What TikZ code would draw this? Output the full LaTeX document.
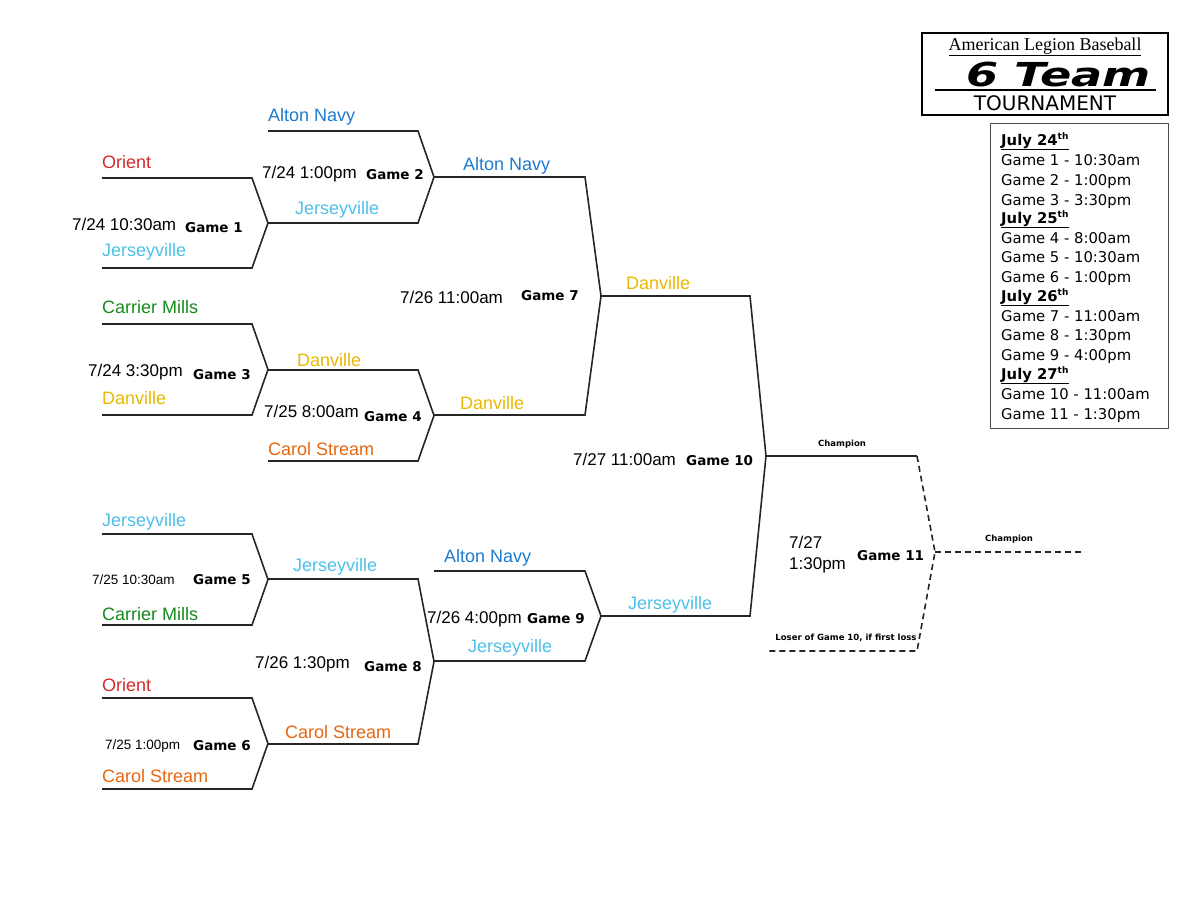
\documentclass[tikz,border=0pt]{standalone}
\usepackage{fontspec}
\setmainfont{Liberation Sans}
\newfontfamily\gfont{DejaVu Sans}
\newfontfamily\tfont{Liberation Serif}
\usetikzlibrary{calc}
\definecolor{cRed}{HTML}{D42A2A}
\definecolor{cNavy}{HTML}{1C7BD0}
\definecolor{cJer}{HTML}{4DC0E8}
\definecolor{cGreen}{HTML}{168A1C}
\definecolor{cGold}{HTML}{E8B800}
\definecolor{cOrange}{HTML}{E8660E}
\tikzset{
  br/.style={line width=1.6pt,black!85},
  team/.style={anchor=base west,inner sep=0pt,font=\fontsize{18}{20}\selectfont},
  time/.style={anchor=base west,inner sep=0pt,font=\fontsize{17}{20}\selectfont},
  game/.style={anchor=base west,inner sep=0pt,font=\gfont\bfseries\fontsize{13.5}{16}\selectfont},
  small/.style={anchor=base,inner sep=0pt,font=\gfont\bfseries\fontsize{8.5}{10}\selectfont},
  sched/.style={anchor=base west,inner sep=0pt,font=\gfont\fontsize{14.8}{16}\selectfont},
  day/.style={sched,font=\gfont\bfseries\fontsize{14.8}{16}\selectfont},
}
\newcommand{\mybr}[5]{% x1 x2 ytop ybot name
  \coordinate (#5) at (#2+16,{(#3+#4)/2});
  \draw[br] (#1,#3) -- (#2,#3) -- (#5) -- (#2,#4) -- (#1,#4);}
\newcommand{\dayline}[3]{\node[day] (#3) at (#1,#2) {\underline{#3\textsuperscript{\fontsize{9}{10}\selectfont th}}};}
\begin{document}
\begin{tikzpicture}[x=1pt,y=-1pt]
\useasboundingbox (0,0) rectangle (1200,921);
% brackets
\mybr{102}{252}{178}{268}{g1}
\mybr{268}{418}{131}{223}{g2}
\mybr{102}{252}{324}{415}{g3}
\mybr{268}{418}{370}{461}{g4}
\mybr{434}{585}{177}{415}{g7}
\mybr{102}{252}{534}{625}{g5}
\mybr{102}{252}{698}{789}{g6}
\mybr{268}{418}{579}{744}{g8}
\mybr{434}{585}{571}{661}{g9}
\mybr{601}{750}{296}{616}{g10}
\coordinate (w10) at (917,456);
\coordinate (l10) at (767,651);
\coordinate (l10e) at (917,651);
\coordinate (g11) at (935,552);
\coordinate (champ) at (1085,552);
\draw[br] (g10) -- (w10);
\draw[br,dash pattern=on 6pt off 4pt] (w10) -- (g11) -- (l10e) -- (l10);
\draw[br,dash pattern=on 6pt off 4pt] (g11) -- (champ);
% teams
\node[team,text=cRed] (t1) at (102,168) {Orient};
\node[team,text=cJer] (t2) at (102,256) {Jerseyville};
\node[team,text=cNavy] (t3) at (268,121) {Alton Navy};
\node[team,text=cJer] (t4) at (295,214) {Jerseyville};
\node[team,text=cNavy] (t5) at (463,170) {Alton Navy};
\node[team,text=cGreen] (t6) at (102,313) {Carrier Mills};
\node[team,text=cGold] (t7) at (102,404) {Danville};
\node[team,text=cGold] (t8) at (297,366) {Danville};
\node[team,text=cOrange] (t9) at (268,455) {Carol Stream};
\node[team,text=cGold] (t10) at (460,409) {Danville};
\node[team,text=cGold] (t11) at (626,289) {Danville};
\node[team,text=cJer] (t12) at (102,526) {Jerseyville};
\node[team,text=cGreen] (t13) at (102,620) {Carrier Mills};
\node[team,text=cJer] (t14) at (293,571) {Jerseyville};
\node[team,text=cRed] (t15) at (102,691) {Orient};
\node[team,text=cOrange] (t16) at (102,782) {Carol Stream};
\node[team,text=cOrange] (t17) at (285,738) {Carol Stream};
\node[team,text=cNavy] (t18) at (444,562) {Alton Navy};
\node[team,text=cJer] (t19) at (468,652) {Jerseyville};
\node[team,text=cJer] (t20) at (628,609) {Jerseyville};
% times and games
\node[time] (d1) at (72,230) {7/24 10:30am};
\node[game] (n1) at (185,232) {Game 1};
\node[time] (d2) at (262,178) {7/24 1:00pm};
\node[game] (n2) at (366,179) {Game 2};
\node[time] (d3) at (88,376) {7/24 3:30pm};
\node[game] (n3) at (193,379) {Game 3};
\node[time] (d4) at (264,417) {7/25 8:00am};
\node[game] (n4) at (364,421) {Game 4};
\node[time] (d7) at (400,303) {7/26 11:00am};
\node[game] (n7) at (521,300) {Game 7};
\node[time,font=\fontsize{13.5}{15}\selectfont] (d5) at (92,584) {7/25 10:30am};
\node[game] (n5) at (193,584) {Game 5};
\node[time,font=\fontsize{13.5}{15}\selectfont] (d6) at (105,749) {7/25 1:00pm};
\node[game] (n6) at (193,750) {Game 6};
\node[time] (d8) at (255,668) {7/26 1:30pm};
\node[game] (n8) at (364,671) {Game 8};
\node[time] (d9) at (427,623) {7/26 4:00pm};
\node[game] (n9) at (527,623) {Game 9};
\node[time] (d10) at (573,465) {7/27 11:00am};
\node[game] (n10) at (686,465) {Game 10};
\node[time,align=left,anchor=north west,font=\fontsize{17}{21}\selectfont] (d11) at (789,536) {7/27\\1:30pm};
\node[game] (n11) at (857,560) {Game 11};
\node[small] (c1) at (842,446) {Champion};
\node[small] (c2) at (1009,541) {Champion};
\node[small] (c3) at (846,640) {Loser of Game 10, if first loss};
% title box
\draw[line width=2.5pt] (922,33) rectangle (1168,115);
\node[anchor=base,inner sep=0pt,font=\tfont\fontsize{18}{19}\selectfont] (tt1) at (1045,50) {\underline{American Legion Baseball}};
\node[anchor=base west,inner sep=0pt,font=\gfont\bfseries\itshape\fontsize{33}{36}\selectfont,xscale=1.4,transform shape] (tt2) at (966,86) {6 Team};
\draw[line width=2.5pt] (935,90) -- (1156,90);
\node[anchor=base,inner sep=0pt,font=\gfont\fontsize{20}{21}\selectfont] (tt3) at (1045,110) {TOURNAMENT};
% schedule
\draw[line width=0.8pt,black!70] (990,123) rectangle (1168,428);
\dayline{1001}{145}{July 24}
\node[sched] (s1) at (1001,165) {Game 1 - 10:30am};
\node[sched] (s2) at (1001,185) {Game 2 - 1:00pm};
\node[sched] (s3) at (1001,205) {Game 3 - 3:30pm};
\dayline{1001}{223}{July 25}
\node[sched] (s4) at (1001,243) {Game 4 - 8:00am};
\node[sched] (s5) at (1001,262) {Game 5 - 10:30am};
\node[sched] (s6) at (1001,282) {Game 6 - 1:00pm};
\dayline{1001}{301}{July 26}
\node[sched] (s7) at (1001,321) {Game 7 - 11:00am};
\node[sched] (s8) at (1001,340) {Game 8 - 1:30pm};
\node[sched] (s9) at (1001,360) {Game 9 - 4:00pm};
\dayline{1001}{379}{July 27}
\node[sched] (s10) at (1001,399) {Game 10 - 11:00am};
\node[sched] (s11) at (1001,419) {Game 11 - 1:30pm};
\end{tikzpicture}
\end{document}
